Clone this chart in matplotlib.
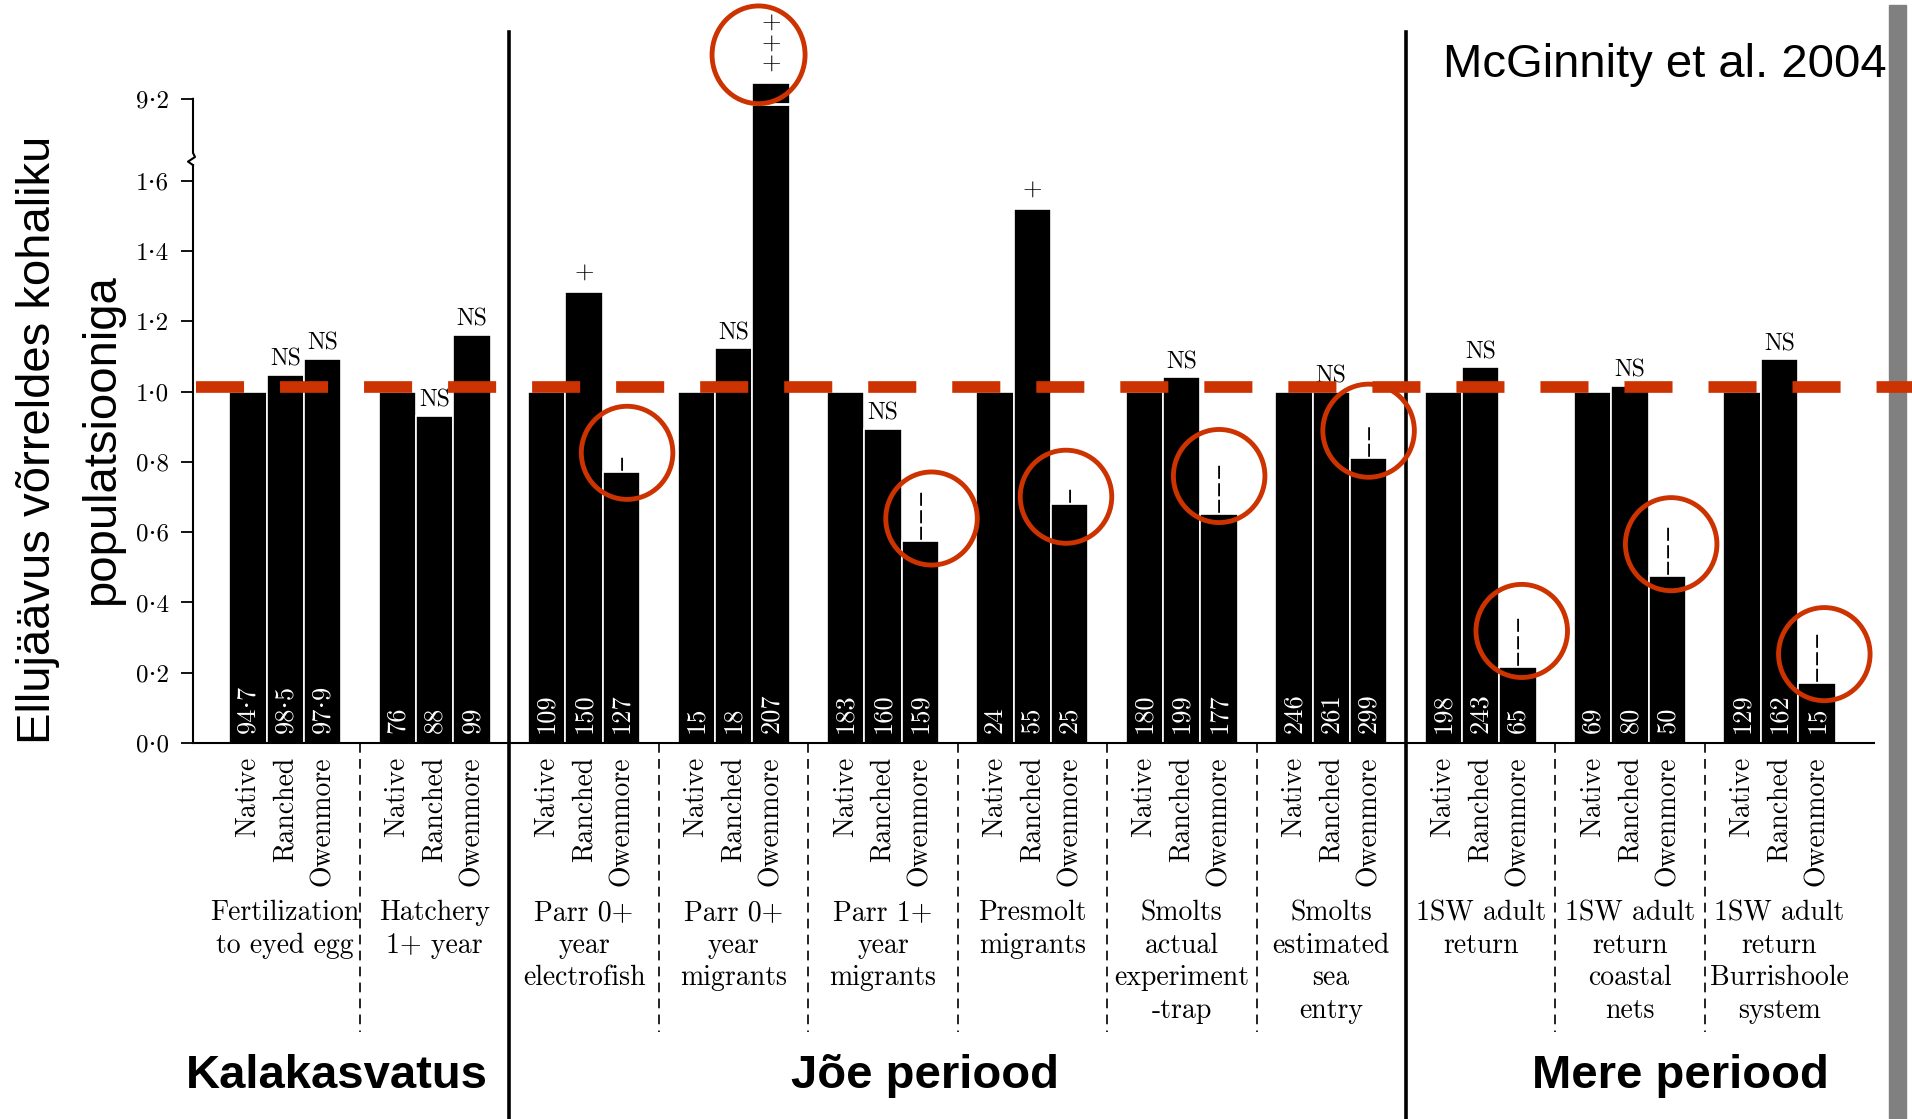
import numpy as np
import matplotlib
matplotlib.use('Agg')
import matplotlib.pyplot as plt
from matplotlib import transforms
from matplotlib.patches import Ellipse, Rectangle

plt.rcParams['lines.scale_dashes'] = False
plt.rcParams['axes.unicode_minus'] = False

SERIF = ['cmr10', 'DejaVu Serif']
SANS = ['Liberation Sans', 'DejaVu Sans']
RED = '#cc3300'

# andmed (loetud jooniselt)
stages = ['Fertilization\nto eyed egg', 'Hatchery\n1+ year', 'Parr 0+\nyear\nelectrofish',
          'Parr 0+\nyear\nmigrants', 'Parr 1+\nyear\nmigrants', 'Presmolt\nmigrants',
          'Smolts\nactual\nexperiment\n-trap', 'Smolts\nestimated\nsea\nentry',
          '1SW adult\nreturn', '1SW adult\nreturn\ncoastal\nnets',
          '1SW adult\nreturn\nBurrishoole\nsystem']
groups = ['Native', 'Ranched', 'Owenmore']
native = [1.0, 1.0, 1.0, 1.0, 1.0, 1.0, 1.0, 1.0, 1.0, 1.0, 1.0]
ranched = [1.048, 0.932, 1.284, 1.124, 0.894, 1.521, 1.041, 1.0, 1.070, 1.017, 1.093]
owenmore = [1.094, 1.162, 0.771, 9.4, 0.574, 0.681, 0.651, 0.811, 0.216, 0.474, 0.170]
n_native = ['94·7', '76', '109', '15', '183', '24', '180', '246', '198', '69', '129']
n_ranched = ['98·5', '88', '150', '18', '160', '55', '199', '261', '243', '80', '162']
n_owenmore = ['97·9', '99', '127', '207', '159', '25', '177', '299', '65', '50', '15']
sig_ranched = ['NS', 'NS', '+', 'NS', 'NS', '+', 'NS', 'NS', 'NS', 'NS', 'NS']
sig_owenmore = ['NS', 'NS', '−', '+++', '−−−', '−', '−−−', '−−', '−−−', '−−−', '−−−']
yticks = [0.0, 0.2, 0.4, 0.6, 0.8, 1.0, 1.2, 1.4, 1.6, 9.2]
ref_level = 1.012
periods = ['Kalakasvatus', 'Jõe periood', 'Mere periood']
period_x = [337, 925, 1680]
period_lines = [6, 30]
# punased ringid
circle_x = [9.15, 17.3, 20.9, 25.0, 29.0, 33.1, 37.1, 41.2]
circle_y = [0.826, 0.639, 0.701, 0.760, 0.889, 0.319, 0.566, 0.253]
big_circle = (12.67, 9.75, 2.49, 1.22)

W, H = 1912, 1119
AX_L, AX_R, AX_B, AX_T = 193, 1874, 743, 0
PX = 351.3

fig = plt.figure(figsize=(W / 100, H / 100), dpi=100)
ax = fig.add_axes([AX_L / W, 1 - AX_B / H, (AX_R - AX_L) / W, (AX_B - AX_T) / H])

# katkestatud y-telg
brk_d = [0.0, 1.7, 9.0, 30.0]
brk_p = [0.0, 1.7, 1.788, 1.788 + 21.0 * 0.228]


def fwd(y):
    return np.interp(y, brk_d, brk_p)


def inv(p):
    return np.interp(p, brk_p, brk_d)


ax.set_yscale('function', functions=(fwd, inv))
ax.set_xlim(-2.47, 42.53)
ax.set_ylim(0, float(inv((AX_B - AX_T) / PX)))


def above(v, px):
    return float(inv(fwd(v) + px / PX))


xc = np.arange(len(stages)) * 4.0
offs = [-1, 0, 1]
for vals, off in zip([native, ranched, owenmore], offs):
    ax.bar(xc + off, vals, width=1.0, color='black', edgecolor='white', linewidth=1.2, zorder=2)

for labs, off in zip([n_native, n_ranched, n_owenmore], offs):
    for x, t in zip(xc, labs):
        ax.text(x + off, 0.028, t, rotation=90, ha='center', va='bottom', color='white',
                fontsize=19, family=SERIF, zorder=3)

# valge katkestusjoon kõrges tulbas
ax.plot([xc[3] + 0.5, xc[3] + 1.5], [9.13, 9.13], color='white', lw=2, zorder=3)

for sigs, vals, off in zip([sig_ranched, sig_owenmore], [ranched, owenmore], [0, 1]):
    for x, s, v in zip(xc, sigs, vals):
        if s == 'NS':
            ax.text(x + off, above(v, 9), s, ha='center', va='baseline', fontsize=17,
                    family=SERIF, zorder=3)
        elif s.startswith('+'):
            ax.text(x + off, above(v, 12), '\n'.join(s), ha='center', va='baseline',
                    fontsize=18, family=SERIF, linespacing=0.9, zorder=3, clip_on=False)
        else:
            ax.text(x + off, above(v, 2), s, rotation=90, ha='center', va='bottom',
                    fontsize=15, family=['DejaVu Sans'], zorder=3)

for x, y in zip(circle_x, circle_y):
    ax.add_patch(Ellipse((x, y), 2.45, 0.265, fill=False, ec=RED, lw=3.5, zorder=5, clip_on=False))
ax.add_patch(Ellipse(big_circle[:2], big_circle[2], big_circle[3], fill=False, ec=RED, lw=3.5,
                     zorder=5, clip_on=False))

# punane katkendjoon
ax.plot([(196 - 285.3) / 37.35, (1912 - 285.3) / 37.35], [ref_level, ref_level], color=RED,
        lw=8.4, dashes=(34.6, 25.9), solid_capstyle='butt', dash_capstyle='butt',
        zorder=4, clip_on=False)

# teljed
for s in ['top', 'right', 'left']:
    ax.spines[s].set_visible(False)
ax.spines['bottom'].set_linewidth(1.5)
ax.set_yticks(yticks, [f'{v:.1f}'.replace('.', '·') for v in yticks])
ax.tick_params(axis='y', direction='out', length=9, width=1.3, pad=8, labelsize=18)
ax.minorticks_off()
xs = np.concatenate([xc + o for o in offs])
xl = [groups[i] for i in range(3) for _ in xc]
ax.set_xticks(xs, xl)
ax.tick_params(axis='x', length=0, pad=10, labelsize=20, labelrotation=90)
for lab in ax.get_yticklabels() + ax.get_xticklabels():
    lab.set_family(SERIF)

tr_l = transforms.blended_transform_factory(ax.transAxes, ax.transData)
dx = 1.0 / (AX_R - AX_L)
ax.plot([0, 0], [0, 1.645], color='black', lw=1.5, transform=tr_l, clip_on=False)
ax.plot([0, -5 * dx, 2 * dx, 0, 0], [1.645, 1.655, 1.668, 1.68, 9.2], color='black', lw=1.5,
        transform=tr_l, clip_on=False)

# eraldusjooned
tr_f = transforms.blended_transform_factory(ax.transData, fig.transFigure)
for k in range(len(stages) - 1):
    x = xc[k] + 2
    if x in period_lines:
        ax.plot([x, x], [1 - 32 / H, 0], color='black', lw=2.6, transform=tr_f, clip_on=False)
    else:
        ax.plot([x, x], [1 - AX_B / H, 1 - 1032 / H], color='black', lw=1.2, dashes=(7, 4.5),
                transform=tr_f, clip_on=False)

for x, s in zip(xc, stages):
    ax.text(x, 1 - 900 / H, s, transform=tr_f, ha='center', va='top', multialignment='center',
            fontsize=20, family=SERIF, linespacing=1.3)

fig.patches.append(Rectangle((1889 / W, 0), 17 / W, 1 - 5 / H, transform=fig.transFigure,
                             color='#808080', zorder=-1))

fig.text(1887 / W, 1 - 77 / H, 'McGinnity et al. 2004', ha='right', va='baseline',
         fontsize=34, family=SANS)
fig.text(70 / W, 1 - 440 / H, 'Ellujäävus võrreldes kohaliku\npopulatsiooniga', rotation=90,
         ha='center', va='center', multialignment='center', fontsize=34, family=SANS,
         linespacing=1.6)
for px_, s in zip(period_x, periods):
    fig.text(px_ / W, 1 - 1088 / H, s, ha='center', va='baseline', fontsize=34,
             fontweight='bold', family=SANS)

fig.savefig('out.png', dpi=100)
